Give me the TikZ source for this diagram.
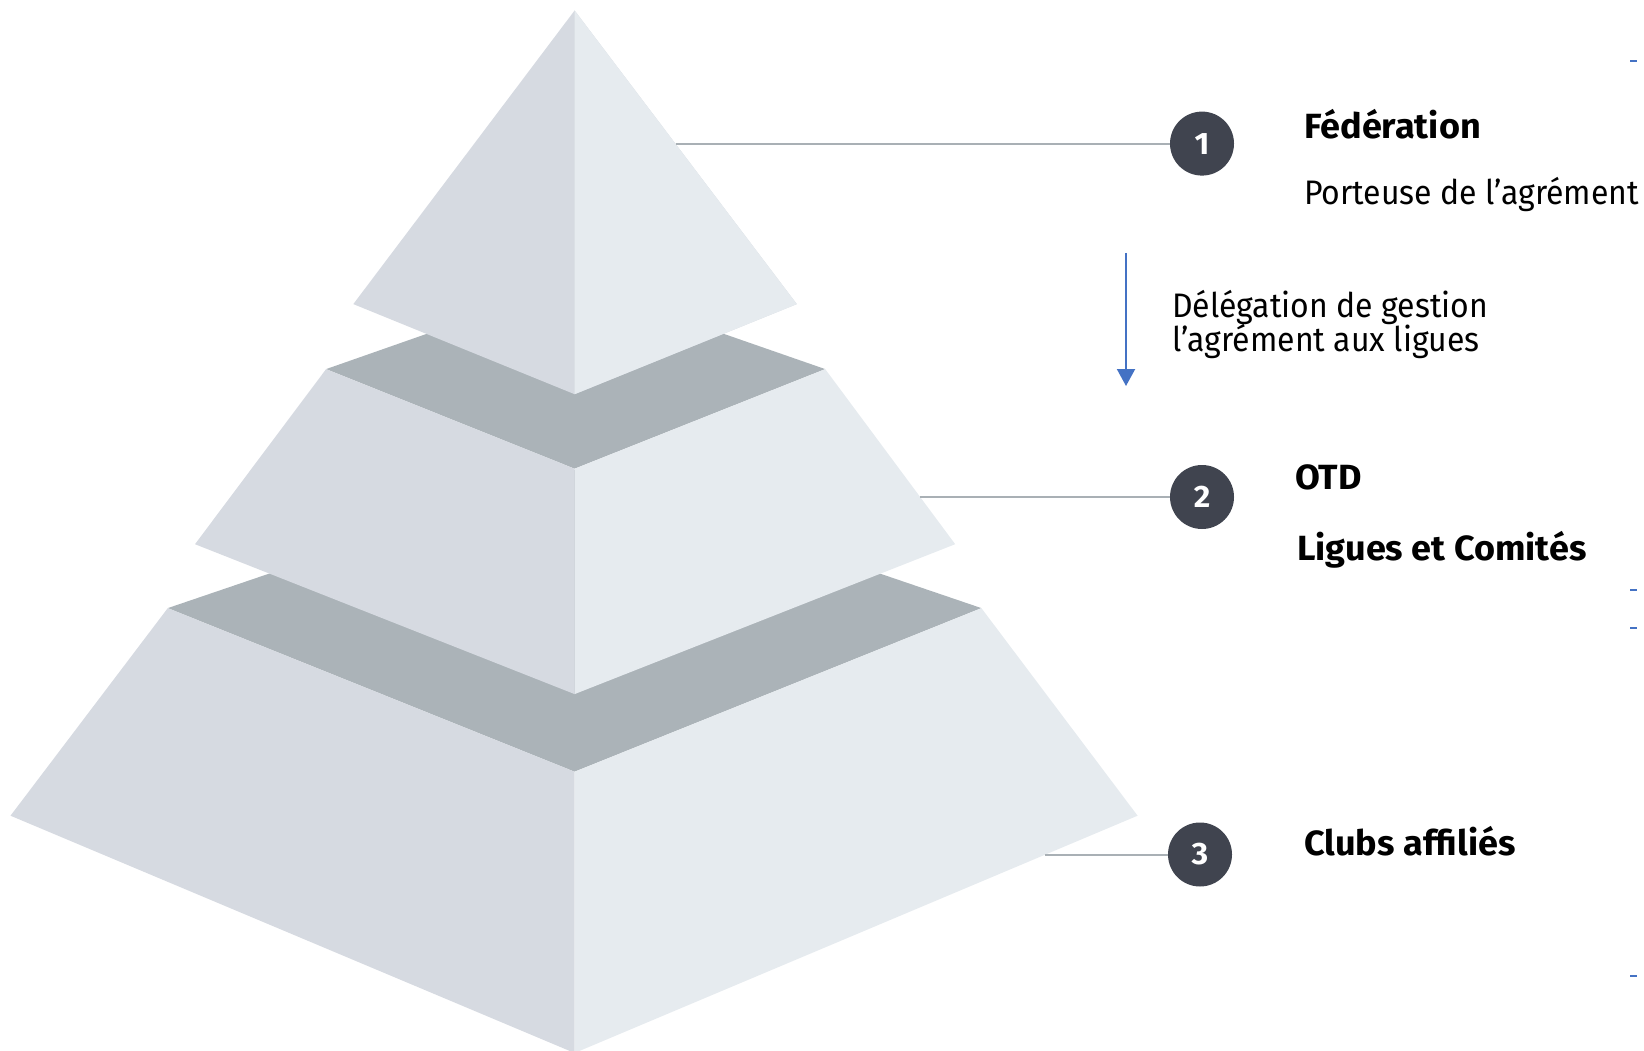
\documentclass[tikz,border=0pt]{standalone}
\usepackage{fontspec}
\setmainfont{Fira Sans}[FakeStretch=0.94, BoldFeatures={FakeStretch=1.03}]
\usetikzlibrary{arrows.meta}
\definecolor{faceL}{HTML}{D6DAE1}
\definecolor{faceR}{HTML}{E6EBEF}
\definecolor{faceT}{HTML}{ABB3B8}
\definecolor{leadgray}{HTML}{A9B0B5}
\definecolor{badgegray}{HTML}{40444F}
\definecolor{arrowblue}{HTML}{4472C4}

\begin{document}
\begin{tikzpicture}[x=1pt, y=-1pt,
    leftface/.style={fill=faceL},
    rightface/.style={fill=faceR},
    topface/.style={fill=faceT},
    leader/.style={draw=leadgray, line width=2pt},
    badge/.style={circle, fill=badgegray, text=white, minimum size=64pt, inner sep=0pt,
        font=\bfseries\fontsize{31}{31}\selectfont},
    title/.style={anchor=base west, inner sep=0pt, font=\bfseries\fontsize{35}{40}\selectfont},
    desc/.style={anchor=base west, inner sep=0pt, font=\fontsize{34}{40}\selectfont},
    deleg/.style={draw=arrowblue, line width=2pt, -{Triangle[width=18pt, length=17pt]}}]
    \useasboundingbox (0,0) rectangle (1644,1051);
    % bottom tier
    \fill[topface] (167.8,608.1) -- (574.6,771.7) -- (981.4,608.1) -- (574.6,469.7) -- cycle;
    \fill[leftface] (167.8,608.1) -- (574.6,771.7) -- (574.6,1053) -- (10.5,815.7) -- cycle;
    \fill[rightface] (574.6,771.7) -- (981.4,608.1) -- (1137.6,815.7) -- (574.6,1053) -- cycle;
    % middle tier
    \fill[topface] (326.1,369.1) -- (574.6,468.7) -- (825.2,369.1) -- (574.6,282) -- cycle;
    \fill[leftface] (326.1,369.1) -- (574.6,468.7) -- (574.6,694.1) -- (195,544.2) -- cycle;
    \fill[rightface] (574.6,468.7) -- (825.2,369.1) -- (955.2,544.2) -- (574.6,694.1) -- cycle;
    % top tier
    \fill[leftface] (574.6,10.5) -- (353.3,304.1) -- (574.6,394.2) -- (796.8,304.1) -- cycle;
    \fill[rightface] (574.6,10.5) -- (796.8,304.1) -- (574.6,394.2) -- cycle;

    % leaders and badges
    \coordinate (e1) at (675.5,143.6);
    \coordinate (e2) at (920,497);
    \coordinate (e3) at (1045,854.5);
    \node[badge] (n1) at (1202,143.6) {1};
    \node[badge] (n2) at (1202,497) {2};
    \node[badge] (n3) at (1200,854.5) {3};
    \draw[leader] (e1) -- (n1);
    \draw[leader] (e2) -- (n2);
    \draw[leader] (e3) -- (n3);

    % texts
    \node[title] (fed) at (1304,139) {Fédération};
    \node[desc] (port) at (1304,204.5) {Porteuse de l’agrément};
    \node[desc] (del1) at (1172,317) {Délégation de gestion};
    \node[desc] (del2) at (1172,351) {l’agrément aux ligues};
    \node[title] (otd) at (1295,489) {OTD};
    \node[title] (lig) at (1297,560) {Ligues et Comités};
    \node[title] (clu) at (1304,855) {Clubs affiliés};

    % delegation arrow
    \coordinate (a1) at (1126,253);
    \coordinate (a2) at (1126,386);
    \draw[deleg] (a1) -- (a2);

    % stray dashes at the edge
    \foreach \y in {61,590,628,976}
        \draw[arrowblue, line width=1.5pt] (1630,\y) -- (1637,\y);
\end{tikzpicture}
\end{document}
